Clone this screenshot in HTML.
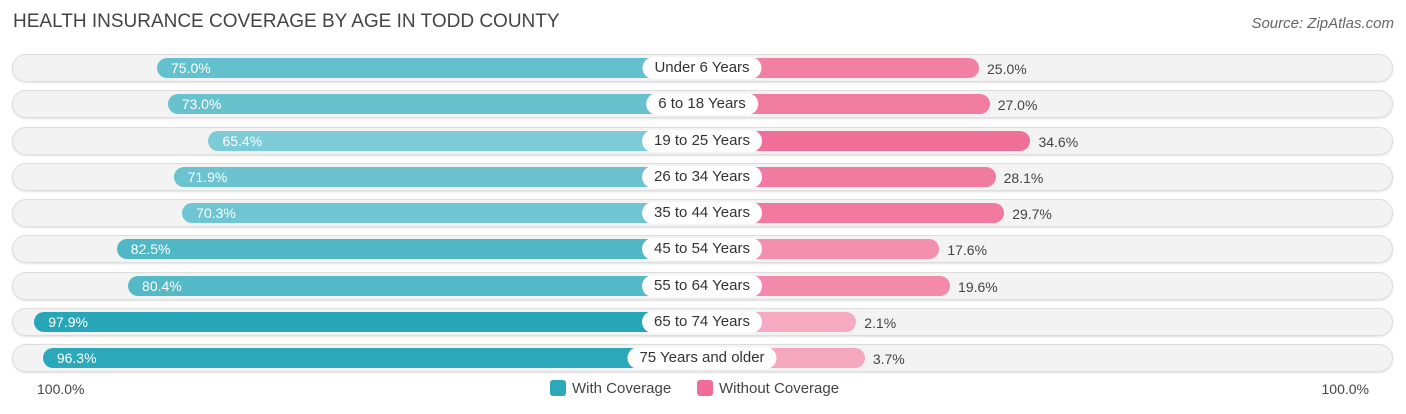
<!DOCTYPE html>
<html><head><meta charset="utf-8"><style>
body{margin:0;width:1406px;height:414px;background:#fff;font-family:"Liberation Sans",sans-serif;position:relative;overflow:hidden}
.t{position:absolute;left:13px;top:11px;font-size:19px;color:#444}
.src{position:absolute;right:12px;top:15px;font-size:15px;color:#666;font-style:italic}
.row{position:absolute;left:12px;width:1381px;height:28px;border-radius:14px;background:#f3f3f3;box-shadow:0 0 0 1px #ddd inset,0 1px 2px rgba(0,0,0,.12)}
.bar{position:absolute;height:20px;border-radius:10px}
.lab{position:absolute;height:22px;line-height:22px;background:#fff;border-radius:11px;font-size:15px;color:#333;text-align:center;padding:0 12px;transform:translateX(-50%)}
.vl{position:absolute;font-size:14px;color:#fff;line-height:20px}
.vr{position:absolute;font-size:14px;color:#444;line-height:20px}
.ax{position:absolute;top:381px;font-size:14px;color:#444}
.lg{position:absolute;top:380px;font-size:15px;color:#444}
.sw{display:inline-block;width:16px;height:16px;border-radius:3px;vertical-align:-3px;margin-right:6px}
</style></head><body>
<div class="t">HEALTH INSURANCE COVERAGE BY AGE IN TODD COUNTY</div>
<div class="src">Source: ZipAtlas.com</div>
<div id="chart"></div>
<div class="ax" style="left:37px">100.0%</div>
<div class="ax" style="right:37px">100.0%</div>
<div class="lg" style="left:550px"><span class="sw" style="background:#2ea9b9"></span>With Coverage</div>
<div class="lg" style="left:697px"><span class="sw" style="background:#f06d97"></span>Without Coverage</div>
<script>
const categories=["Under 6 Years","6 to 18 Years","19 to 25 Years","26 to 34 Years","35 to 44 Years","45 to 54 Years","55 to 64 Years","65 to 74 Years","75 Years and older"];
const withCov=[75.0,73.0,65.4,71.9,70.3,82.5,80.4,97.9,96.3];
const withoutCov=[25.0,27.0,34.6,28.1,29.7,17.6,19.6,2.1,3.7];
const C=702,OFF=143,S=5.36,Y0=68,DY=36.25;
function mix(a,b,t){return 'rgb('+a.map((v,i)=>Math.round(v+(b[i]-v)*t)).join(',')+')';}
function xL(p){return C-OFF-p*S;}
function xR(p){return C+OFF+p*S;}
const ch=document.getElementById('chart');
categories.forEach((c,i)=>{
 const cy=Y0+i*DY;
 const r=document.createElement('div');r.className='row';r.style.top=(cy-14)+'px';
 
 
 ch.appendChild(r);
 const tw=Math.min(1,Math.max(0,(withCov[i]-65)/33));
 const b=document.createElement('div');b.className='bar';
 b.style.left=xL(withCov[i])+'px';b.style.width=(C-xL(withCov[i]))+'px';b.style.top=(cy-10)+'px';
 b.style.background=mix([125,203,214],[39,166,183],tw);
 
 
 ch.appendChild(b);
 const tp=Math.min(1,Math.max(0,(withoutCov[i]-2)/33));
 const p=document.createElement('div');p.className='bar';
 p.style.left=C+'px';p.style.width=(xR(withoutCov[i])-C)+'px';p.style.top=(cy-10)+'px';
 p.style.background=mix([246,170,194],[240,110,151],tp);
 
 
 ch.appendChild(p);
 const l=document.createElement('div');l.className='lab';l.textContent=c;l.style.left=C+'px';l.style.top=(cy-11)+'px';
 
 
 ch.appendChild(l);
 const v=document.createElement('div');v.className='vl';v.textContent=withCov[i].toFixed(1)+'%';
 v.style.left=(xL(withCov[i])+14)+'px';v.style.top=(cy-10)+'px';
 
 
 ch.appendChild(v);
 const w=document.createElement('div');w.className='vr';w.textContent=withoutCov[i].toFixed(1)+'%';
 w.style.left=(xR(withoutCov[i])+8)+'px';w.style.top=(cy-9)+'px';
 
 
 ch.appendChild(w);
});
</script>
</body></html>
